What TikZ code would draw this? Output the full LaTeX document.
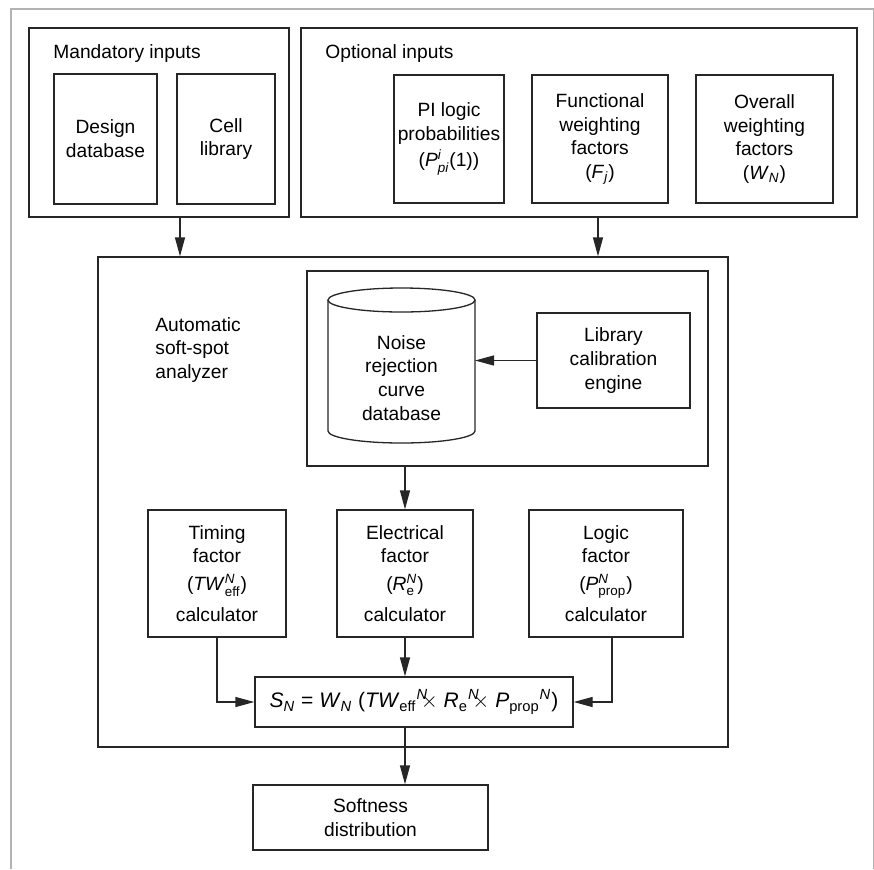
\documentclass[tikz,border=0pt]{standalone}
\usepackage{amsmath}
\usepackage{fontspec}
\setmainfont{Liberation Sans}
\usetikzlibrary{arrows.meta, positioning, calc}
\newcommand\mvar[1]{\textit{#1}}
\newcommand\subsup[2]{$^{\text{#1}}_{\text{#2}}$}
\tikzset{
  box/.style={draw=black!85, line width=0.65pt, align=center, inner sep=0pt},
  lbl/.style={align=left, inner sep=0pt},
  arr/.style={draw=black!85, line width=0.65pt, -{Triangle[length=9.5pt,width=5pt]}},
}

\begin{document}
\begin{tikzpicture}[x=0.5pt, y=-0.5pt, font=\fontsize{9.6}{11.9}\selectfont]
  \useasboundingbox (0,0) rectangle (874,869);
  % light frame round the figure
  \draw[black!30, line width=0.8pt] (11,869) -- (11,9) -- (873.5,9) -- (873.5,869);
  % inputs
  \node[box, minimum width=130pt, minimum height=94.5pt] (mand) at (159,122.5) {};
  \node[lbl, anchor=base west] (mandlbl) at (53,58) {Mandatory inputs};
  \node[box, minimum width=51.5pt, minimum height=65pt] (design) at (105.5,139) {Design\\database};
  \node[box, minimum width=49pt, minimum height=65pt] (cell) at (226,139) {Cell\\library};
  \node[box, minimum width=278pt, minimum height=94.5pt] (opt) at (579,122.5) {};
  \node[lbl, anchor=base west] (optlbl) at (325,58) {Optional inputs};
  \node[box, minimum width=55pt, minimum height=64pt] (pi) at (449,139)
    {PI logic\\probabilities\\[1pt](\mvar{P}\subsup{\itshape i}{\itshape pi}(1))};
  \node[box, minimum width=68pt, minimum height=64pt] (func) at (600,139)
    {Functional\\weighting\\factors\\(\mvar{F}$_{\text{\itshape j}}$)};
  \node[box, minimum width=68.5pt, minimum height=64pt] (overall) at (764.5,139)
    {Overall\\weighting\\factors\\(\mvar{W}$_{\text{\itshape N}}$)};
  % analyzer
  \node[box, minimum width=315pt, minimum height=245pt] (big) at (413,502) {};
  \node[lbl, anchor=west] (biglbl) at (155,350) {Automatic\\soft-spot\\analyzer};
  \node[box, minimum width=200.5pt, minimum height=97.5pt] (dbbox) at (507.5,368.5) {};
  \draw[black!85, line width=0.65pt] (328,300) -- (328,431)
    arc[start angle=180, end angle=360, x radius=36.75pt, y radius=6pt] -- (475,300);
  \draw[black!85, line width=0.65pt] (401.5,300) ellipse[x radius=36.75pt, y radius=6pt];
  \node[lbl, align=center] (noise) at (401.5,378) {Noise\\rejection\\curve\\database};
  \coordinate (cylR) at (475,363);
  \node[box, minimum width=76.5pt, minimum height=47.5pt] (lib) at (613.5,360.5) {Library\\calibration\\engine};
  \node[box, minimum width=69pt, minimum height=63.5pt] (timing) at (217,573.5)
    {Timing\\factor\\[2pt](\mvar{TW}\subsup{\itshape N}{eff})\\[3.5pt]calculator};
  \node[box, minimum width=68pt, minimum height=63.5pt] (elec) at (405,573.5)
    {Electrical\\factor\\[2pt](\mvar{R}\subsup{\itshape N}{e})\\[3.5pt]calculator};
  \node[box, minimum width=77pt, minimum height=63.5pt] (logic) at (606,573.5)
    {Logic\\factor\\[2pt](\mvar{P}\subsup{\itshape N}{prop})\\[3.5pt]calculator};
  \node[box, minimum width=159pt, minimum height=25pt, font=\fontsize{10.5}{12}\selectfont] (formula) at (414,702)
    {\mvar{S}$_{\text{\itshape N}}$ = \mvar{W}$_{\text{\itshape N}}$ (\mvar{TW}$_{\text{eff}}{}^{\text{\itshape N}}\!\!\times$
     \mvar{R}$_{\text{e}}{}^{\text{\itshape N}}\!\!\times$ \mvar{P}$_{\text{prop}}{}^{\text{\itshape N}}$)};
  \node[box, minimum width=117.5pt, minimum height=32.5pt] (soft) at (370.5,817.5) {Softness\\distribution};
  % connectors
  \coordinate (m1) at ($(mand.south)+(21,0)$);
  \coordinate (o1) at ($(opt.south)+(19,0)$);
  \coordinate (l1) at ($(logic.south)+(6,0)$);
  \draw[arr] (m1) -- (m1 |- big.north);
  \draw[arr] (o1) -- (o1 |- big.north);
  \draw[arr] (lib.west) -- (lib.west -| cylR);
  \draw[arr] (dbbox.south -| elec.north) -- (elec.north);
  \draw[arr] (timing.south) |- (formula.west);
  \draw[arr] (elec.south) -- (elec.south |- formula.north);
  \draw[arr] (l1) |- (formula.east);
  \draw[arr] (elec.south |- formula.south) -- (elec.south |- soft.north);
\end{tikzpicture}
\end{document}
